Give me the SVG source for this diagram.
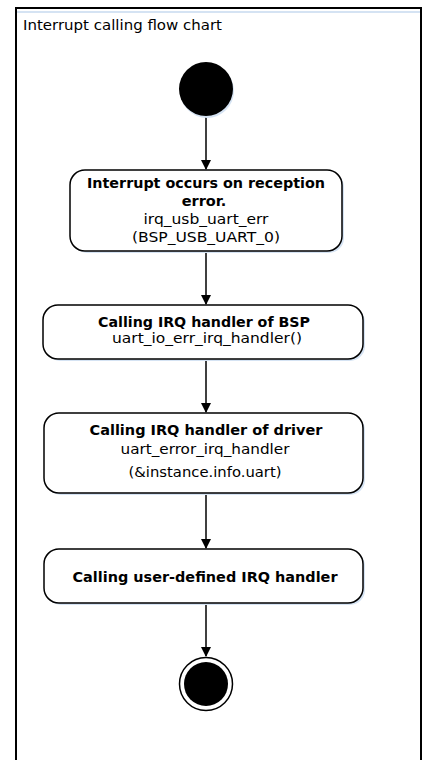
<svg xmlns="http://www.w3.org/2000/svg" width="426" height="760" viewBox="0 0 426 760">
<style>
text{font-family:"DejaVu Sans","Verdana",sans-serif;font-size:14px;fill:#000}
.b{font-weight:bold;font-size:14.5px}
.c{text-anchor:middle}
.box{fill:#fff;stroke:#000;stroke-width:1.5}
.sh{fill:#d5e3f3}
.ln{stroke:#000;stroke-width:1.5;fill:none}
</style>
<defs>
<marker id="ah" markerWidth="10" markerHeight="10" refX="9" refY="5" orient="auto" markerUnits="userSpaceOnUse">
<path d="M0,0 L10,5 L0,10 Z" fill="#000"/>
</marker>
</defs>
<rect width="426" height="760" fill="#fff"/>
<g id="frame">
<line x1="17" y1="12" x2="420" y2="12" stroke="#d5e3f3" stroke-width="2"/>
<rect x="16" y="8" width="405" height="800" fill="none" stroke="#000" stroke-width="2"/>
<text x="23" y="30" textLength="199" lengthAdjust="spacingAndGlyphs">Interrupt calling flow chart</text>
</g>
<g id="connectors">
<line class="ln" x1="206" y1="116" x2="206" y2="169" marker-end="url(#ah)"/>
<line class="ln" x1="206" y1="251" x2="206" y2="304" marker-end="url(#ah)"/>
<line class="ln" x1="206" y1="359" x2="206" y2="412" marker-end="url(#ah)"/>
<line class="ln" x1="206" y1="493" x2="206" y2="548" marker-end="url(#ah)"/>
<line class="ln" x1="206" y1="603" x2="206" y2="656" marker-end="url(#ah)"/>
</g>
<g id="start">
<circle cx="207" cy="91" r="27" fill="#d5e3f3"/>
<circle cx="206" cy="89" r="27" fill="#000"/>
</g>
<g id="n1">
<rect class="sh" x="72" y="172" width="272" height="81" rx="15"/>
<rect class="box" x="70" y="170" width="272" height="81" rx="15"/>
<text class="b c" x="206" y="188" textLength="238" lengthAdjust="spacingAndGlyphs">Interrupt occurs on reception</text>
<text class="b c" x="204" y="206">error.</text>
<text class="c" x="206" y="224" textLength="125" lengthAdjust="spacingAndGlyphs">irq_usb_uart_err</text>
<text class="c" x="206" y="242" textLength="148" lengthAdjust="spacingAndGlyphs">(BSP_USB_UART_0)</text>
</g>
<g id="n2">
<rect class="sh" x="45" y="307" width="320" height="54" rx="15"/>
<rect class="box" x="43" y="305" width="320" height="54" rx="15"/>
<text class="b c" x="204" y="327" textLength="212" lengthAdjust="spacingAndGlyphs">Calling IRQ handler of BSP</text>
<text class="c" x="207" y="343" textLength="190" lengthAdjust="spacingAndGlyphs">uart_io_err_irq_handler()</text>
</g>
<g id="n3">
<rect class="sh" x="46" y="415" width="319" height="80" rx="15"/>
<rect class="box" x="44" y="413" width="319" height="80" rx="15"/>
<text class="b c" x="206" y="435" textLength="233" lengthAdjust="spacingAndGlyphs">Calling IRQ handler of driver</text>
<text class="c" x="205" y="454" textLength="169" lengthAdjust="spacingAndGlyphs">uart_error_irq_handler</text>
<text class="c" x="205" y="477" textLength="153" lengthAdjust="spacingAndGlyphs">(&amp;instance.info.uart)</text>
</g>
<g id="n4">
<rect class="sh" x="46" y="551" width="319" height="54" rx="15"/>
<rect class="box" x="44" y="549" width="319" height="54" rx="15"/>
<text class="b c" x="205" y="582" textLength="265" lengthAdjust="spacingAndGlyphs">Calling user-defined IRQ handler</text>
</g>
<g id="end">
<circle cx="206" cy="684" r="26.5" fill="#fff" stroke="#000" stroke-width="1.5"/>
<circle cx="206" cy="684" r="22" fill="#000"/>
</g>
</svg>
